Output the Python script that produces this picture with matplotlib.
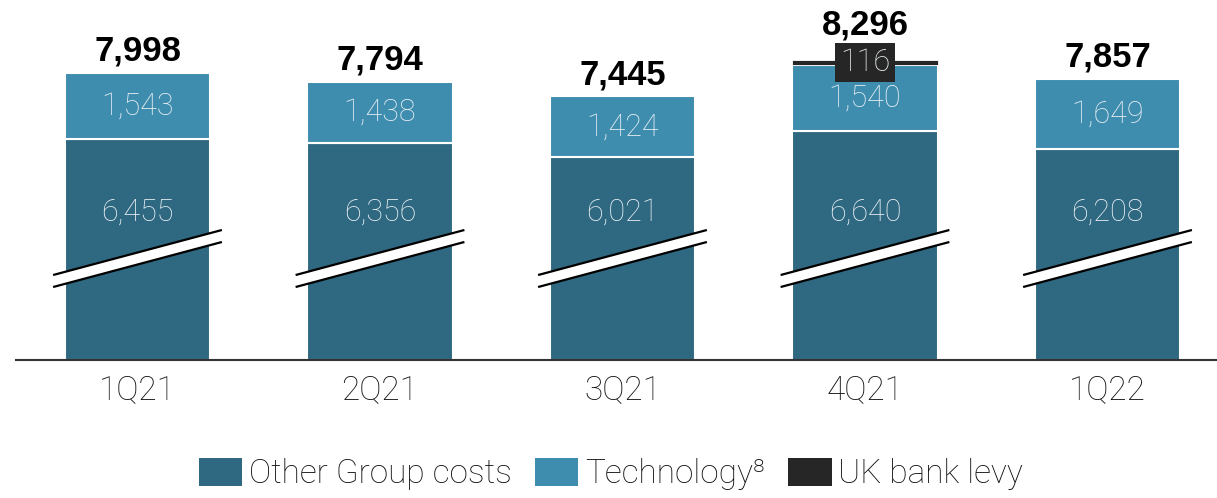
import matplotlib
matplotlib.use("Agg")
import matplotlib.pyplot as plt
import numpy as np
from matplotlib.patches import Patch, Polygon

quarters = ["1Q21", "2Q21", "3Q21", "4Q21", "1Q22"]
other_costs = [6455, 6356, 6021, 6640, 6208]
technology = [1543, 1438, 1424, 1540, 1649]
bank_levy = [0, 0, 0, 116, 0]
totals = [7998, 7794, 7445, 8296, 7857]

c_other = "#2f6881"
c_tech = "#3e8daf"
c_levy = "#262626"
c_label = "#eaf0f3"

# the axis is cut: bars start below the visible range
y_low, y_high = 1250, 9710
label_y = 4730      # where the "other costs" numbers sit
break_y = 3635      # centre of the break marks

light = ["Roboto", "DejaVu Sans"]
bold = ["Liberation Sans", "DejaVu Sans"]
wt = "light"

fig = plt.figure(figsize=(12.17, 4.98), dpi=100)
ax = fig.add_axes([16.25 / 1217, 138 / 498, 1212.5 / 1217, 360 / 498])
x = np.arange(len(quarters))
w = 0.6

ax.bar(x, other_costs, w, color=c_other, edgecolor="white", linewidth=1.5, zorder=2)
ax.bar(x, technology, w, bottom=other_costs, color=c_tech, edgecolor="white", linewidth=1.5, zorder=2)
levy_bottom = np.array(other_costs) + np.array(technology)
ax.bar(x, bank_levy, w, bottom=levy_bottom, color=c_levy, edgecolor="white", linewidth=0.6, zorder=2)

# break marks
half = 0.348
drop = 1058
gap = 141
for xi in x:
    xs = np.array([xi - half, xi + half])
    up = break_y + gap + drop * (xs - xi) / (2 * half)
    lo = break_y - gap + drop * (xs - xi) / (2 * half)
    ax.add_patch(Polygon([[xs[0], lo[0]], [xs[1], lo[1]], [xs[1], up[1]], [xs[0], up[0]]],
                         closed=True, facecolor="white", edgecolor="none", zorder=3, clip_on=False))
    ax.plot(xs, up, color="black", lw=1.6, zorder=4, solid_capstyle="butt")
    ax.plot(xs, lo, color="black", lw=1.6, zorder=4, solid_capstyle="butt")

for i in range(len(quarters)):
    ax.text(x[i], label_y, f"{other_costs[i]:,}", ha="center", va="center",
            color=c_label, fontsize=22, family=light, fontweight=wt, zorder=5)
    ax.text(x[i], other_costs[i] + technology[i] / 2, f"{technology[i]:,}", ha="center", va="center",
            color=c_label, fontsize=22, family=light, fontweight=wt, zorder=5)
    top = other_costs[i] + technology[i] + bank_levy[i]
    if bank_levy[i]:
        ax.text(x[i], top - bank_levy[i] / 2, f"{bank_levy[i]:,}", ha="center", va="center",
                color=c_label, fontsize=22, family=light, fontweight=wt, zorder=6,
                bbox=dict(boxstyle="square,pad=0.16", facecolor=c_levy, edgecolor="none"))
        off = 610
    else:
        off = 285
    ax.text(x[i], top + off, f"{totals[i]:,}", ha="center", va="baseline",
            color="black", fontsize=25, family=bold, fontweight="bold", zorder=5)

ax.set_xlim(-0.5, 4.5)
ax.set_ylim(y_low, y_high)
ax.set_xticks(x)
ax.set_xticklabels(quarters, family=light, fontsize=24, fontweight=wt, color="#111111")
ax.tick_params(axis="x", length=0, pad=10)
ax.set_yticks([])
for s in ["top", "right", "left"]:
    ax.spines[s].set_visible(False)
ax.spines["bottom"].set_color("#333333")
ax.spines["bottom"].set_linewidth(1.5)
ax.spines["bottom"].set_zorder(6)

handles = [Patch(facecolor=c_other), Patch(facecolor=c_tech), Patch(facecolor=c_levy)]
names = ["Other Group costs", "Technology⁸", "UK bank levy"]
fig.legend(handles, names, loc="lower center", bbox_to_anchor=(611 / 1217, -0.025), ncol=3,
           frameon=False, prop={"family": light, "size": 24, "weight": wt},
           labelcolor="#111111",
           handlelength=1.3, handleheight=0.95, handletextpad=0.2, columnspacing=0.7,
           borderpad=0.1)

fig.savefig("out.png", dpi=100)
